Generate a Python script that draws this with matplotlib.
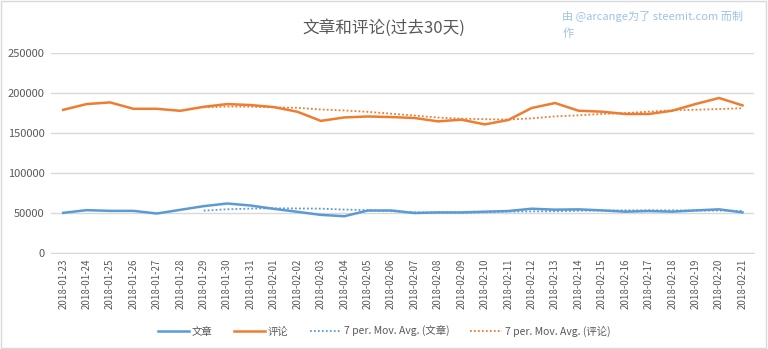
import numpy as np
import pandas as pd
import matplotlib
matplotlib.use('Agg')
import matplotlib.pyplot as plt
from matplotlib.patches import Rectangle

plt.rcParams['font.family'] = ['Noto Sans CJK SC', 'DejaVu Sans']

dates = pd.date_range('2018-01-23', '2018-02-21').strftime('%Y-%m-%d').tolist()

posts = [50200, 53600, 52700, 52700, 49400, 54000, 58600, 61900, 59400, 55200,
         51500, 47700, 46000, 53100, 53200, 50000, 50800, 50800, 51700, 52500,
         55400, 54200, 54600, 53300, 51700, 52500, 51700, 53300, 54600, 50800]
comments = [179000, 186200, 188300, 180300, 180300, 177800, 182800, 186200, 185000, 182400,
            176600, 165200, 169500, 170700, 170000, 168800, 164600, 166700, 160800, 166300,
            181300, 187500, 177900, 176700, 173800, 173800, 177900, 186300, 193800, 184600]

blue = '#5B9BD5'
orange = '#ED7D31'
grey = '#595959'

# Excel-style 7 period moving average trendlines
posts_ma = pd.Series(posts).rolling(7).mean()
comments_ma = pd.Series(comments).rolling(7).mean()

fig = plt.figure(figsize=(7.68, 3.49), dpi=100)
ax = fig.add_axes([0.067, 0.275, 0.915, 0.573])

x = np.arange(len(dates))
ax.plot(x, posts, color=blue, lw=1.8, label='文章')
ax.plot(x, comments, color=orange, lw=1.8, label='评论')
ax.plot(x, posts_ma, color=blue, lw=1.3, ls=(0, (1, 1.2)), label='7 per. Mov. Avg. (文章)')
ax.plot(x, comments_ma, color=orange, lw=1.3, ls=(0, (1, 1.2)), label='7 per. Mov. Avg. (评论)')

ax.set_xlim(-0.5, len(dates) - 0.5)
ax.set_ylim(0, 250000)
ax.set_yticks(np.arange(0, 250001, 50000))
ax.yaxis.grid(True, color='#D9D9D9', lw=1)
ax.set_axisbelow(True)
for s in ['top', 'right', 'left']:
    ax.spines[s].set_visible(False)
ax.spines['bottom'].set_color('#D9D9D9')
ax.set_xticks(x)
ax.set_xticklabels(dates, rotation=90, fontsize=7, color=grey)
ax.tick_params(axis='y', labelsize=8, colors=grey, length=0, pad=5)
ax.tick_params(axis='x', length=0, pad=4)

fig.text(0.5, 0.92, '文章和评论(过去30天)', ha='center', va='center', fontsize=12, color=grey)
fig.text(0.732, 0.953, '由 @arcange为了 steemit.com 而制', ha='left', va='center', fontsize=8, color='#9DC3E6')
fig.text(0.732, 0.903, '作', ha='left', va='center', fontsize=8, color='#9DC3E6')

leg = fig.legend(loc='center', bbox_to_anchor=(0.5, 0.05), ncol=4, frameon=False,
                 fontsize=7.5, handlelength=3.0, columnspacing=2.0, handletextpad=0.3)
for t in leg.get_texts():
    t.set_color(grey)

fig.patches.append(Rectangle((0.001, 0.002), 0.997, 0.995, transform=fig.transFigure,
                             fill=False, edgecolor='#D9D9D9', lw=1))

fig.savefig('out.png', dpi=100)
